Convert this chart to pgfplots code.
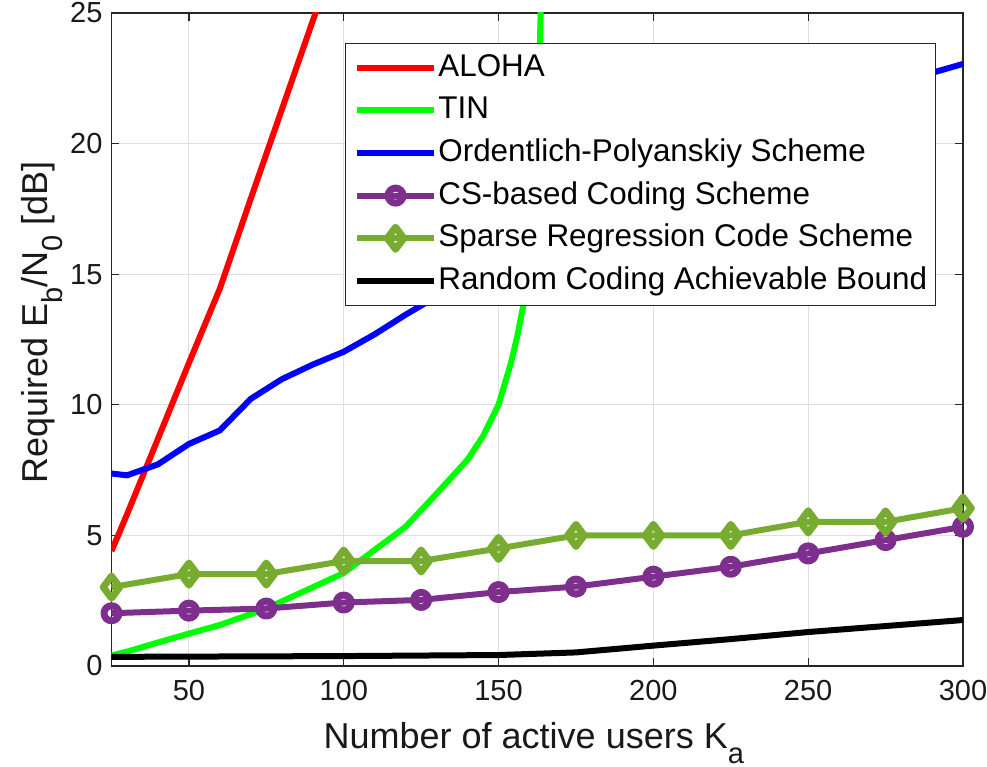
\documentclass[border=0pt]{standalone}
\usepackage{fontspec}
\setmainfont{Liberation Sans}
\usepackage{pgfplots}
\pgfplotsset{compat=1.18}
\definecolor{csp}{RGB}{126,47,142}
\definecolor{sparc}{RGB}{119,172,48}
\definecolor{axgray}{RGB}{38,38,38}
\newcommand{\sub}[1]{\raisebox{-0.42em}{\fontsize{14.5}{14.5}\selectfont #1}}

\begin{document}
\begin{tikzpicture}
\path[use as bounding box] (-55.75pt,-50.5pt) rectangle (437.75pt,333pt);
\begin{axis}[
  scale only axis, width=425.75pt, height=326.5pt,
  xmin=25, xmax=300, ymin=0, ymax=25,
  xtick={50,100,...,300}, ytick={0,5,...,25},
  tick pos=both, tick align=inside, major tick length=4pt,
  grid=major, major grid style={line width=0.5pt, draw=black!12},
  axis line style={draw=axgray, line width=0.6pt},
  tick style={draw=axgray, line width=0.6pt},
  /pgf/number format/assume math mode=true,
  tick label style={font=\fontsize{14.5}{17}\selectfont, text=black!90},
  xticklabel style={yshift=-3.5pt},
  yticklabel style={xshift=-1pt},
  xlabel={Number of active users K\sub{a}},
  ylabel={Required E\sub{b}/N\sub{0} [dB]},
  label style={font=\fontsize{18}{20}\selectfont, text=black!90},
  xlabel style={at={(axis description cs:0.496,-0.1256)}, anchor=base},
  ylabel style={at={(axis description cs:-0.0757,0.526)}, anchor=base},
  legend style={at={(0.968,0.9545)}, anchor=north east, draw=axgray,
    line width=0.6pt, fill=white, font=\fontsize{15.7}{18}\selectfont,
    row sep=6.8pt, column sep=0.5pt, inner xsep=4pt, inner ysep=5pt,
    nodes={inner ysep=0pt, text height=11.5pt, text depth=3pt, inner xsep=0pt}},
  legend cell align=left,
  legend image code/.code={\draw[mark repeat=2,mark phase=2,#1] plot coordinates {(0pt,0pt) (19.4pt,0pt) (38.8pt,0pt)};},
  every axis plot/.append style={line width=3pt, line join=round},
]
\addplot[color=red] coordinates {
  (25,4.4) (30,5.8) (40,8.7) (50,11.6) (60,14.45) (70,17.9) (80,21.3) (90,24.7) (100,28.1)
};
\addlegendentry{ALOHA}
\addplot[color=green] coordinates {
  (25,0.4) (30,0.55) (40,0.9) (50,1.24) (60,1.57) (75,2.2) (100,3.56) (120,5.33)
  (130,6.6) (140,7.9) (145,8.8) (150,10.0) (152,10.8) (154,11.6) (156,12.6)
  (158,13.8) (160,15.6) (162,18.8) (163,22) (164,27)
};
\addlegendentry{TIN}
\addplot[color=blue] coordinates {
  (25,7.37) (30,7.3) (40,7.72) (50,8.5) (60,9.02) (70,10.23) (80,10.98) (90,11.54)
  (100,12.03) (110,12.7) (120,13.45) (125,13.8) (150,15.5) (175,17.1) (200,18.5)
  (225,19.8) (250,21.0) (275,22.2) (300,23.05)
};
\addlegendentry{Ordentlich-Polyanskiy Scheme}
\addplot[color=csp, mark=o, mark size=3.75pt, mark options={line width=3.5pt, solid}] coordinates {
  (25,2.02) (50,2.12) (75,2.2) (100,2.43) (125,2.53) (150,2.83) (175,3.04)
  (200,3.42) (225,3.8) (250,4.31) (275,4.82) (300,5.33)
};
\addlegendentry{CS-based Coding Scheme}
\addplot[color=sparc, mark=diamond, mark size=5.5pt, mark options={line width=3.5pt, solid}] coordinates {
  (25,3.02) (50,3.52) (75,3.52) (100,4.02) (125,4.02) (150,4.5) (175,5.0)
  (200,5.0) (225,5.0) (250,5.52) (275,5.52) (300,6.04)
};
\addlegendentry{Sparse Regression Code Scheme}
\addplot[color=black] coordinates {
  (25,0.35) (50,0.36) (100,0.38) (150,0.42) (175,0.52) (200,0.78) (225,1.03)
  (250,1.3) (275,1.53) (300,1.76)
};
\addlegendentry{Random Coding Achievable Bound}
\end{axis}
\end{tikzpicture}
\end{document}
